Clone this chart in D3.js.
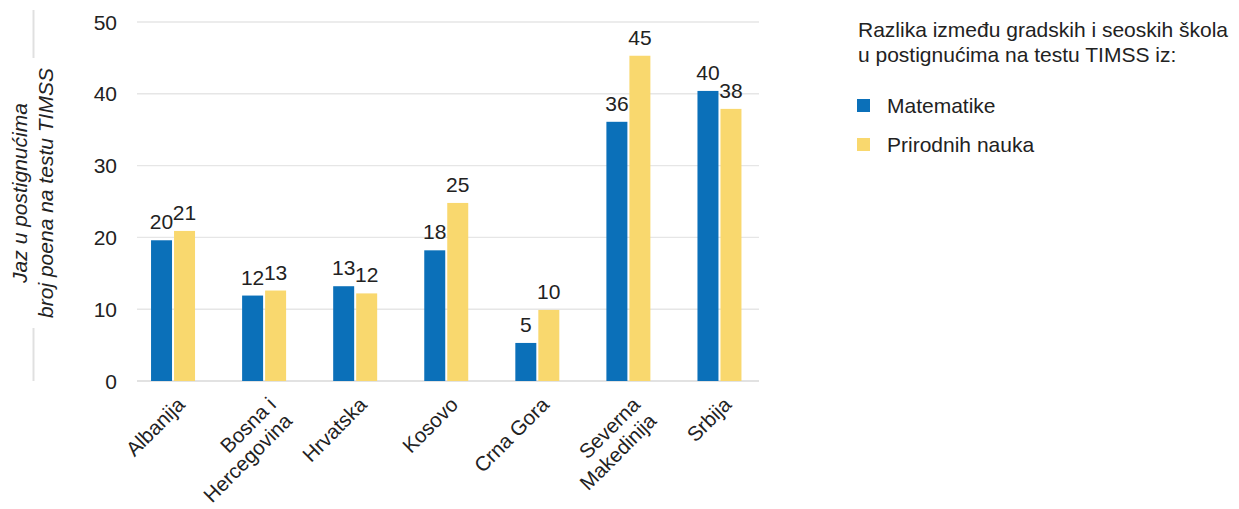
<!DOCTYPE html>
<html>
<head>
<meta charset="utf-8">
<script src="https://cdn.jsdelivr.net/npm/d3@7"></script>
<style>
  html, body { margin: 0; padding: 0; background: #fff; }
  svg text { font-family: "Liberation Sans", Arial, sans-serif; fill: #222; }
</style>
</head>
<body>
<svg id="chart" width="1239" height="509"></svg>
<script>
// Gap between urban and rural schools in TIMSS scores (points)
const categories = ["Albanija", "Bosna i\nHercegovina", "Hrvatska", "Kosovo", "Crna Gora", "Severna\nMakedinija", "Srbija"];
const matematika = [19.6, 11.9, 13.2, 18.2, 5.3, 36.1, 40.4];
const prirodneNauke = [20.9, 12.6, 12.2, 24.8, 9.9, 45.3, 37.9];
const seriesNames = ["Matematike", "Prirodnih nauka"];
const seriesColors = ["#0B70B9", "#F9D86E"];
const yTicks = [0, 10, 20, 30, 40, 50];
const legendTitle = ["Razlika između gradskih i seoskih škola", "u postignućima na testu TIMSS iz:"];
const yTitle = ["Jaz u postignućima", "broj poena na testu TIMSS"];

const FS = 21;
const svg = d3.select("#chart");

const rows = categories.map((c, i) => ({ cat: c, values: [matematika[i], prirodneNauke[i]] }));

const x = d3.scaleBand().domain(categories).range([127.5, 765]).paddingInner(0.517).paddingOuter(0.2585);
const xs = d3.scaleBand().domain(seriesNames).range([0, x.bandwidth()]).paddingInner(0.087);
const y = d3.scaleLinear().domain([0, 50]).range([381, 22]);

const gridX0 = 137, gridX1 = 759;

// horizontal gridlines
svg.append("g").selectAll("line")
  .data(yTicks.filter(t => t !== 0))
  .join("line")
  .attr("x1", gridX0).attr("x2", gridX1)
  .attr("y1", d => y(d)).attr("y2", d => y(d))
  .attr("stroke", "#e6e6e6").attr("stroke-width", 1.4);

// baseline
svg.append("line")
  .attr("x1", gridX0).attr("x2", gridX1)
  .attr("y1", y(0)).attr("y2", y(0))
  .attr("stroke", "#e2e2e2").attr("stroke-width", 2.2);

// y tick labels
svg.append("g").selectAll("text")
  .data(yTicks)
  .join("text")
  .attr("x", 117).attr("y", d => y(d)).attr("dy", "0.36em")
  .attr("text-anchor", "end")
  .style("font-size", FS + "px")
  .text(d => d);

// bars
const groups = svg.append("g").selectAll("g")
  .data(rows)
  .join("g")
  .attr("transform", d => `translate(${x(d.cat)},0)`);

groups.selectAll("rect")
  .data(d => d.values.map((v, k) => ({ key: seriesNames[k], v, k })))
  .join("rect")
  .attr("x", d => xs(d.key))
  .attr("width", xs.bandwidth())
  .attr("y", d => y(d.v))
  .attr("height", d => y(0) - y(d.v))
  .attr("fill", d => seriesColors[d.k]);

// value labels
const fmt = d3.format(".0f");
groups.selectAll("text")
  .data(d => d.values.map((v, k) => ({ key: seriesNames[k], v, k })))
  .join("text")
  .attr("x", d => xs(d.key) + xs.bandwidth() / 2)
  .attr("y", d => y(d.v) - 11)
  .attr("text-anchor", "middle")
  .style("font-size", FS + "px")
  .text(d => fmt(d.v));

// category labels, rotated
const lh = 23;
svg.append("g").selectAll("text")
  .data(categories)
  .join("text")
  .attr("transform", d => `translate(${x(d) + x.bandwidth() / 2 + 13},406) rotate(-45)`)
  .attr("text-anchor", "end")
  .style("font-size", "20.5px")
  .each(function (d) {
    d.split("\n").forEach((line, i) => {
      d3.select(this).append("tspan").attr("x", 0).attr("y", i * lh).text(line);
    });
  });

// y axis title
const yTitleX = [27, 53];
yTitle.forEach((t, i) => {
  svg.append("text")
    .attr("transform", `translate(${yTitleX[i]},193) rotate(-90)`)
    .attr("text-anchor", "middle")
    .style("font-size", FS + "px")
    .style("font-style", "italic")
    .text(t);
});

// bracket line behind the axis title
[[10, 58], [328, 381]].forEach(([a, b]) => {
  svg.append("line")
    .attr("x1", 33.5).attr("x2", 33.5).attr("y1", a).attr("y2", b)
    .attr("stroke", "#e0e0e0").attr("stroke-width", 2);
});

// legend
const lg = svg.append("g").attr("transform", "translate(858,0)");
legendTitle.forEach((t, i) => {
  lg.append("text").attr("x", 0).attr("y", 36.7 + i * 25.6)
    .style("font-size", FS + "px").text(t);
});
seriesNames.forEach((s, i) => {
  const yy = 99 + i * 39;
  lg.append("rect").attr("x", -1).attr("y", yy).attr("width", 13).attr("height", 13).attr("fill", seriesColors[i]);
  lg.append("text").attr("x", 29).attr("y", yy + 14.3).style("font-size", FS + "px").text(s);
});
</script>
</body>
</html>
